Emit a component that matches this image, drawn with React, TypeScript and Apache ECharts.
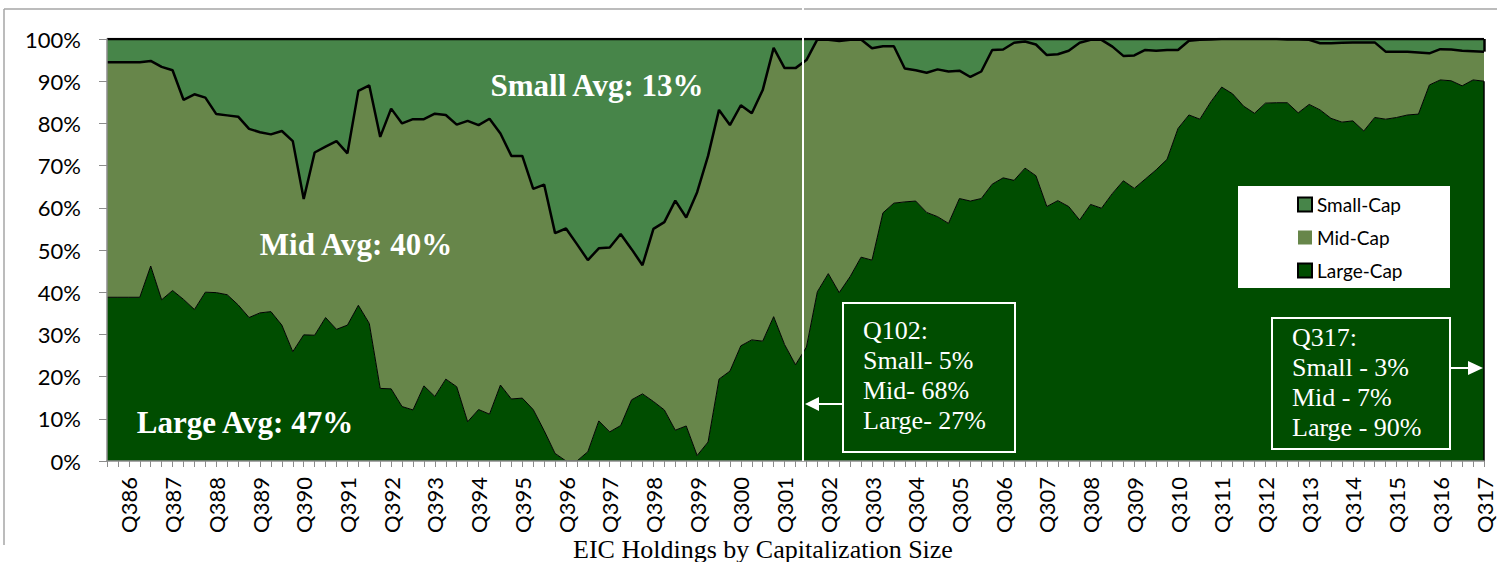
import React, { useEffect, useRef } from "react";
import * as echarts from "echarts";

const categories = [
  "Q186","Q286","Q386","Q486","Q187","Q287","Q387","Q487","Q188","Q288","Q388","Q488",
  "Q189","Q289","Q389","Q489","Q190","Q290","Q390","Q490","Q191","Q291","Q391","Q491",
  "Q192","Q292","Q392","Q492","Q193","Q293","Q393","Q493","Q194","Q294","Q394","Q494",
  "Q195","Q295","Q395","Q495","Q196","Q296","Q396","Q496","Q197","Q297","Q397","Q497",
  "Q198","Q298","Q398","Q498","Q199","Q299","Q399","Q499","Q100","Q200","Q300","Q400",
  "Q101","Q201","Q301","Q401","Q102","Q202","Q302","Q402","Q103","Q203","Q303","Q403",
  "Q104","Q204","Q304","Q404","Q105","Q205","Q305","Q405","Q106","Q206","Q306","Q406",
  "Q107","Q207","Q307","Q407","Q108","Q208","Q308","Q408","Q109","Q209","Q309","Q409",
  "Q110","Q210","Q310","Q410","Q111","Q211","Q311","Q411","Q112","Q212","Q312","Q412",
  "Q113","Q213","Q313","Q413","Q114","Q214","Q314","Q414","Q115","Q215","Q315","Q415",
  "Q116","Q216","Q316","Q416","Q117","Q217","Q317"
];

const largeCap = [
  38.8,38.8,38.8,38.8,46.2,38.2,40.4,38.3,35.9,40.0,
  39.9,39.4,37.0,34.0,35.1,35.4,32.2,25.9,29.9,29.8,
  34.0,31.2,32.2,36.9,32.6,17.2,17.1,12.9,12.1,17.8,
  15.3,19.4,17.6,9.3,12.2,11.1,18.0,14.7,14.9,12.2,
  7.2,1.8,0,0,2.2,9.5,6.9,8.4,14.5,15.9,
  14.1,12.1,7.3,8.3,1.3,4.5,19.4,21.3,27.3,28.7,
  28.4,34.2,27.6,22.8,27.0,40.1,44.4,39.9,43.7,48.3,
  47.6,58.8,61.1,61.4,61.6,58.9,57.9,56.3,62.2,61.6,
  62.2,65.6,67.1,66.5,69.4,67.6,60.3,61.7,60.3,57.1,
  60.8,59.9,63.4,66.4,64.6,66.8,69.0,71.5,78.8,82.0,
  81.0,85.1,88.6,87.0,84.1,82.4,84.8,84.9,84.9,82.5,
  84.5,83.2,81.2,80.3,80.6,78.2,81.4,81.0,81.4,82.0,
  82.2,89.1,90.3,90.1,88.9,90.3,90.0
];

const midCap = [
  55.7,55.7,55.7,55.7,48.6,55.2,52.2,47.3,51.0,46.1,
  42.3,42.5,44.6,44.7,42.8,42.0,46.0,49.9,32.2,43.3,
  40.5,44.6,40.7,50.8,56.4,59.6,66.4,67.1,68.9,63.2,
  67.0,62.6,62.1,71.3,67.4,70.0,59.6,57.6,57.4,52.3,
  58.3,52.2,55.1,51.4,45.4,40.9,43.7,45.4,35.7,30.5,
  40.9,44.5,54.4,49.4,62.4,67.8,63.8,58.3,57.0,53.7,
  59.5,63.7,65.5,70.3,68.0,59.8,55.4,59.6,56.1,51.6,
  50.2,39.5,37.2,31.6,31.0,33.1,34.9,36.0,30.3,29.4,
  30.1,31.8,30.4,32.6,30.0,31.1,35.9,34.7,36.9,42.0,
  39.0,39.9,34.8,29.6,31.5,30.6,28.2,25.9,18.6,17.6,
  18.8,14.8,11.4,13.0,15.9,17.6,15.2,15.1,15.0,17.4,
  15.3,15.8,17.8,18.8,18.6,21.0,17.8,16.0,15.6,15.0,
  14.6,7.5,7.3,7.4,8.3,6.8,7.0
];

const smallCap = [
  5.5,5.5,5.5,5.5,5.2,6.6,7.4,14.4,13.1,13.9,
  17.8,18.1,18.4,21.3,22.1,22.6,21.8,24.2,37.9,26.9,
  25.5,24.2,27.1,12.3,11.0,23.2,16.5,20.0,19.0,19.0,
  17.7,18.0,20.3,19.4,20.4,18.9,22.4,27.7,27.7,35.5,
  34.5,46.0,44.9,48.6,52.4,49.6,49.4,46.2,49.8,53.6,
  45.0,43.4,38.3,42.3,36.3,27.7,16.8,20.4,15.7,17.6,
  12.1,2.1,6.9,6.9,5.0,0.1,0.2,0.5,0.2,0.1,
  2.2,1.7,1.7,7.0,7.4,8.0,7.2,7.7,7.5,9.0,
  7.7,2.6,2.5,0.9,0.6,1.3,3.8,3.6,2.8,0.9,
  0.2,0.2,1.8,4.0,3.9,2.6,2.8,2.6,2.6,0.4,
  0.2,0.1,0,0,0,0,0,0,0.1,0.1,
  0.2,1.0,1.0,0.9,0.8,0.8,0.8,3.0,3.0,3.0,
  3.2,3.4,2.4,2.5,2.8,2.9,3.0
];

const averageLabels = ["Small Avg: 13%", "Mid Avg: 40%", "Large Avg: 47%"];
const seriesNames = ["Small-Cap", "Mid-Cap", "Large-Cap"];
const chartTitle = "EIC Holdings by Capitalization Size";

const C_SMALL = "#478549";
const C_MID = "#67864A";
const C_LARGE = "#004D00";

export default function App() {
  const ref = useRef<HTMLDivElement>(null);
  useEffect(() => {
    const chart = echarts.init(ref.current!, null, { renderer: "svg" });
    const last = categories.length - 1;
    const lastCat = categories[last];
    const lastLarge = largeCap[last];
    const lastTop = largeCap[last] + midCap[last];
    const q102 = categories.indexOf("Q102");
    const serif = "'Liberation Serif', 'Times New Roman', serif";
    const sans = "Lato, 'Liberation Sans', sans-serif";
    const r = (v: number) => Math.round(v);
    const boxText1 = `Q102:\nSmall- ${r(smallCap[q102])}%\nMid- ${r(midCap[q102])}%\nLarge- ${r(largeCap[q102])}%`;
    const boxText2 = `${lastCat}:\nSmall - ${r(smallCap[last])}%\nMid - ${r(midCap[last])}%\nLarge - ${r(largeCap[last])}%`;

    chart.setOption({
      animation: false,
      backgroundColor: "#ffffff",
      grid: { left: 107, right: 13, top: 39, bottom: 101 },
      xAxis: {
        type: "category",
        data: categories,
        boundaryGap: false,
        z: 6,
        axisLine: { lineStyle: { color: "#8c8c8c", width: 1.5 } },
        axisTick: { show: true, interval: 0, length: 6, lineStyle: { color: "#8c8c8c" } },
        axisLabel: {
          interval: (i: number) => i % 4 === 2,
          rotate: 90,
          margin: 16,
          fontFamily: sans,
          fontSize: 22,
          lineHeight: 20,
          color: "#000",
        },
      },
      yAxis: {
        type: "value",
        min: 0,
        max: 100,
        interval: 10,
        z: 6,
        axisLine: { show: true, lineStyle: { color: "#8c8c8c", width: 1.5 } },
        axisTick: { show: true, length: 8, lineStyle: { color: "#8c8c8c" } },
        splitLine: { show: false },
        axisLabel: { formatter: "{value}%", fontFamily: sans, fontSize: 22, color: "#000", margin: 26 },
      },
      legend: {
        orient: "vertical",
        left: 1292,
        top: 190,
        z: 20,
        itemWidth: 14,
        itemHeight: 14,
        itemGap: 14,
        selectedMode: false,
        textStyle: { fontFamily: sans, fontSize: 19, color: "#000" },
        data: [
          { name: seriesNames[0], icon: "rect", itemStyle: { color: C_SMALL, borderColor: "#000", borderWidth: 2 } },
          { name: seriesNames[1], icon: "rect", itemStyle: { color: C_MID, borderWidth: 0 } },
          { name: seriesNames[2], icon: "rect", itemStyle: { color: C_LARGE, borderColor: "#000", borderWidth: 2 } },
        ],
      },
      series: [
        {
          name: seriesNames[2],
          type: "line",
          stack: "cap",
          data: largeCap,
          symbol: "none",
          z: 4,
          itemStyle: { color: C_LARGE },
          lineStyle: { color: "#000", width: 1 },
          areaStyle: { color: C_LARGE, opacity: 1 },
          markLine: {
            silent: true,
            symbol: "none",
            label: { show: false },
            lineStyle: { color: "#000", width: 1.5, type: "solid" },
            data: [[{ coord: [lastCat, 0] }, { coord: [lastCat, lastLarge] }]],
          },
        },
        {
          name: seriesNames[1],
          type: "line",
          stack: "cap",
          data: midCap,
          symbol: "none",
          z: 3,
          itemStyle: { color: C_MID },
          lineStyle: { color: "#000", width: 2.5 },
          areaStyle: { color: C_MID, opacity: 1 },
        },
        {
          name: seriesNames[0],
          type: "line",
          stack: "cap",
          data: smallCap,
          symbol: "none",
          z: 2,
          itemStyle: { color: C_SMALL },
          lineStyle: { color: "#000", width: 2.5 },
          areaStyle: { color: C_SMALL, opacity: 1 },
          markLine: {
            silent: true,
            symbol: "none",
            label: { show: false },
            lineStyle: { color: "#000", width: 2.5, type: "solid" },
            data: [[{ coord: [lastCat, lastTop] }, { coord: [lastCat, 100] }]],
          },
        },
      ],
      graphic: [
        { type: "line", z: 10, shape: { x1: 4, y1: 9, x2: 1497, y2: 9 }, style: { stroke: "#a6a6a6", lineWidth: 1.5 } },
        { type: "line", z: 10, shape: { x1: 4, y1: 9, x2: 4, y2: 545 }, style: { stroke: "#a6a6a6", lineWidth: 1.5 } },
        { type: "line", z: 11, shape: { x1: 803, y1: 0, x2: 803, y2: 461 }, style: { stroke: "#ffffff", lineWidth: 2 } },
        {
          type: "text", z: 10,
          style: { text: averageLabels[0], x: 597, y: 85, fill: "#fff", font: `bold 31px ${serif}`, textAlign: "center", textVerticalAlign: "middle" },
        },
        {
          type: "text", z: 10,
          style: { text: averageLabels[1], x: 356, y: 244, fill: "#fff", font: `bold 31px ${serif}`, textAlign: "center", textVerticalAlign: "middle" },
        },
        {
          type: "text", z: 10,
          style: { text: averageLabels[2], x: 245, y: 422, fill: "#fff", font: `bold 31px ${serif}`, textAlign: "center", textVerticalAlign: "middle" },
        },
        { type: "rect", z: 10, shape: { x: 843, y: 303, width: 172, height: 149 }, style: { fill: C_LARGE, stroke: "#fff", lineWidth: 2 } },
        {
          type: "text", z: 11,
          style: { text: boxText1, x: 863, y: 315, fill: "#fff", font: `26px ${serif}`, lineHeight: 30, textAlign: "left", textVerticalAlign: "top" },
        },
        { type: "line", z: 11, shape: { x1: 843, y1: 404, x2: 818, y2: 404 }, style: { stroke: "#fff", lineWidth: 2 } },
        { type: "polygon", z: 11, shape: { points: [[805, 404], [819, 397], [819, 411]] }, style: { fill: "#fff" } },
        { type: "rect", z: 10, shape: { x: 1272, y: 318, width: 178, height: 131 }, style: { fill: C_LARGE, stroke: "#fff", lineWidth: 2 } },
        {
          type: "text", z: 11,
          style: { text: boxText2, x: 1292, y: 322, fill: "#fff", font: `26px ${serif}`, lineHeight: 30, textAlign: "left", textVerticalAlign: "top" },
        },
        { type: "line", z: 11, shape: { x1: 1450, y1: 368, x2: 1469, y2: 368 }, style: { stroke: "#fff", lineWidth: 2 } },
        { type: "polygon", z: 11, shape: { points: [[1483, 368], [1468, 361], [1468, 375]] }, style: { fill: "#fff" } },
        { type: "rect", z: 10, shape: { x: 1238, y: 186, width: 212, height: 102 }, style: { fill: "#fff" } },
        {
          type: "text", z: 10,
          style: { text: chartTitle, x: 763, y: 549, fill: "#000", font: `26px ${serif}`, textAlign: "center", textVerticalAlign: "middle" },
        },
      ],
    });
    return () => chart.dispose();
  }, []);
  return <div ref={ref} style={{ position: "fixed", left: 0, top: 0, width: 1497, height: 562 }} />;
}
